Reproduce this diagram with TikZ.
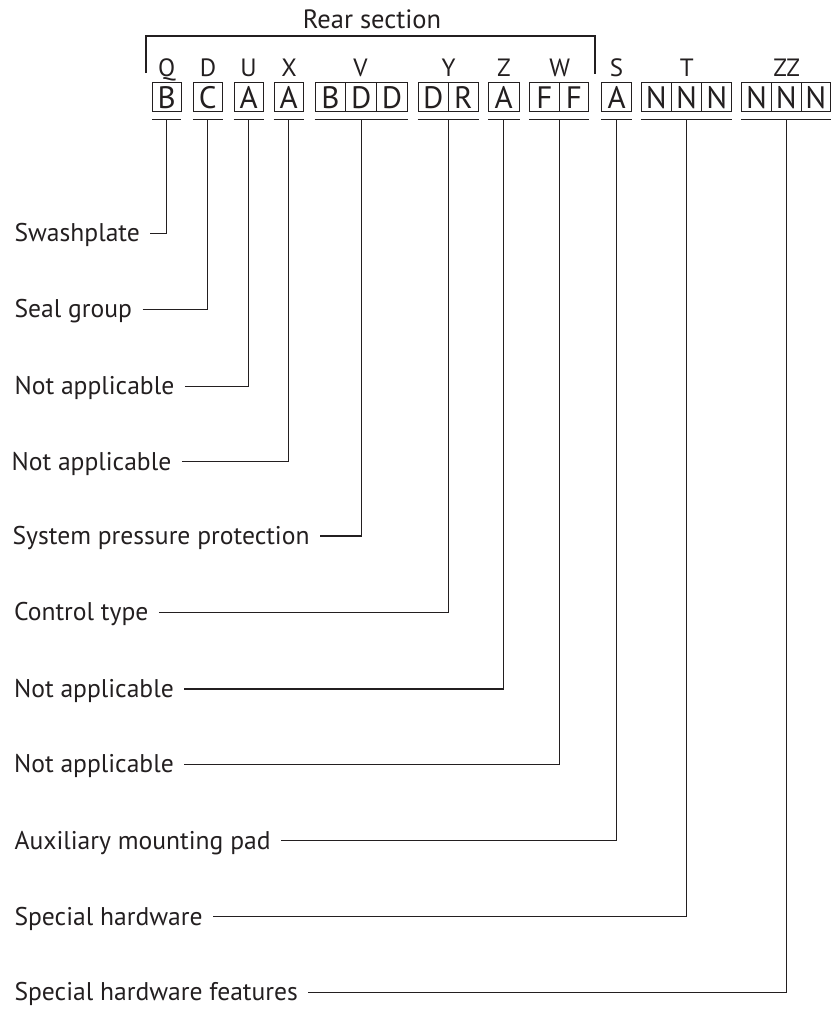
\documentclass[tikz,border=0pt]{standalone}
\usepackage{fontspec}
\setmainfont{PT Sans}
\definecolor{ink}{RGB}{35,31,32}
\newcommand{\lblfont}{\fontsize{25.6}{31}\selectfont}
\newcommand{\cellfont}{\fontsize{31}{35}\selectfont}
\newcommand{\codefont}{\fontsize{25}{30}\selectfont}
\newcommand{\rearfont}{\fontsize{26.5}{31}\selectfont}
\begin{document}
\begin{tikzpicture}[x=1pt,y=-1pt,line width=1.1pt,draw=ink,text=ink,
  cell/.style={draw=ink,line width=0.9pt,minimum width=29.5pt,minimum height=28.7pt,inner sep=0pt,
    text height=24pt,text depth=0pt,font=\cellfont},
  code/.style={anchor=base,inner sep=0pt,font=\codefont},
  lbl/.style={anchor=west,inner sep=0pt,text height=19.5pt,text depth=2.3pt,font=\lblfont},
  uline/.style={line width=1.1pt},
  conn/.style={line width=1.1pt}]
\useasboundingbox (0,0) rectangle (832,1009);

% title and bracket
\node[anchor=base,inner sep=0pt,font=\rearfont] (rear) at (372,28.3) {Rear section};
\coordinate (brL) at (146,73);
\coordinate (brR) at (595,74);
\draw[line width=1.2pt] (brL) |- (370,36) -| (brR);

% code letters
\node[code] (c-q) at (166.7,76) {Q};
\node[code] (c-d) at (208,76) {D};
\node[code] (c-u) at (248.5,76) {U};
\node[code] (c-x) at (289,76) {X};
\node[code] (c-v) at (360.5,76) {V};
\node[code] (c-y) at (448.5,76) {Y};
\node[code] (c-z) at (504,76) {Z};
\node[code] (c-w) at (559.7,76) {W};
\node[code] (c-s) at (616.5,76) {S};
\node[code] (c-t) at (686.7,76) {T};
\node[code] (c-zz) at (786.7,76) {ZZ};

% cells
\node[cell,minimum width=28.5pt] (b-q) at (166.7,96.8) {B};
\node[cell,minimum width=29pt] (b-d) at (207.8,96.8) {C};
\node[cell,minimum width=29.3pt] (b-u) at (248.6,96.8) {A};
\node[cell,minimum width=29.3pt] (b-x) at (288.7,96.8) {A};
\node[cell,minimum width=30.8pt] (b-v1) at (330.5,96.8) {B};
\node[cell,minimum width=30.8pt] (b-v2) at (361.3,96.8) {D};
\node[cell,minimum width=30.8pt] (b-v3) at (392.1,96.8) {D};
\node[cell,minimum width=30.2pt] (b-y1) at (433.2,96.8) {D};
\node[cell,minimum width=30.2pt] (b-y2) at (463.4,96.8) {R};
\node[cell,minimum width=30.7pt] (b-z) at (503.7,96.8) {A};
\node[cell,minimum width=30pt] (b-w1) at (544.3,96.8) {F};
\node[cell,minimum width=29.2pt] (b-w2) at (573.9,96.8) {F};
\node[cell,minimum width=30pt] (b-s) at (616.7,96.8) {A};
\node[cell,minimum width=30.2pt] (b-t1) at (656.3,96.8) {N};
\node[cell,minimum width=30.2pt] (b-t2) at (686.5,96.8) {N};
\node[cell,minimum width=30.2pt] (b-t3) at (716.7,96.8) {N};
\node[cell,minimum width=29.6pt] (b-zz1) at (756.6,96.8) {N};
\node[cell,minimum width=29.6pt] (b-zz2) at (786.2,96.8) {N};
\node[cell,minimum width=29.6pt] (b-zz3) at (815.8,96.8) {N};

% underlines
\foreach \a/\b in {b-q/b-q,b-d/b-d,b-u/b-u,b-x/b-x,b-v1/b-v3,b-y1/b-y2,b-z/b-z,b-w1/b-w2,b-s/b-s,b-t1/b-t3,b-zz1/b-zz3}
  \draw[uline] ([yshift=-7.8pt]\a.south west) -- ([yshift=-7.8pt]\b.south east);

% labels
\node[lbl] (l-q) at (14,233.3) {Swashplate};
\node[lbl] (l-d) at (14,309.2) {Seal group};
\node[lbl] (l-u) at (14,386.2) {Not applicable};
\node[lbl] (l-x) at (11,461.5) {Not applicable};
\node[lbl] (l-v) at (12,536) {System pressure protection};
\node[lbl] (l-y) at (13.5,612.3) {Control type};
\node[lbl] (l-z) at (13.5,689) {Not applicable};
\node[lbl] (l-w) at (13.5,764.3) {Not applicable};
\node[lbl] (l-s) at (14,840.8) {Auxiliary mounting pad};
\node[lbl] (l-t) at (14,916.6) {Special hardware};
\node[lbl] (l-zz) at (14,992.3) {Special hardware features};

% connectors
\draw[conn] ([xshift=10pt]l-q.east) -| ([yshift=-7.8pt]b-q.south);
\draw[conn] ([xshift=10pt]l-d.east) -| ([yshift=-7.8pt]b-d.south);
\draw[conn] ([xshift=10pt]l-u.east) -| ([yshift=-7.8pt]b-u.south);
\draw[conn] ([xshift=10pt]l-x.east) -| ([yshift=-7.8pt]b-x.south);
\draw[conn] ([xshift=10pt]l-v.east) -| ([yshift=-7.8pt]b-v2.south);
\draw[conn] ([xshift=10pt]l-y.east) -| ([yshift=-7.8pt]b-y1.south east);
\draw[conn] ([xshift=10pt]l-z.east) -| ([yshift=-7.8pt]b-z.south);
\draw[conn] ([xshift=10pt]l-w.east) -| ([yshift=-7.8pt]b-w1.south east);
\draw[conn] ([xshift=10pt]l-s.east) -| ([yshift=-7.8pt]b-s.south);
\draw[conn] ([xshift=10pt]l-t.east) -| ([yshift=-7.8pt]b-t2.south);
\draw[conn] ([xshift=10pt]l-zz.east) -| ([yshift=-7.8pt]b-zz2.south);
\end{tikzpicture}
\end{document}
